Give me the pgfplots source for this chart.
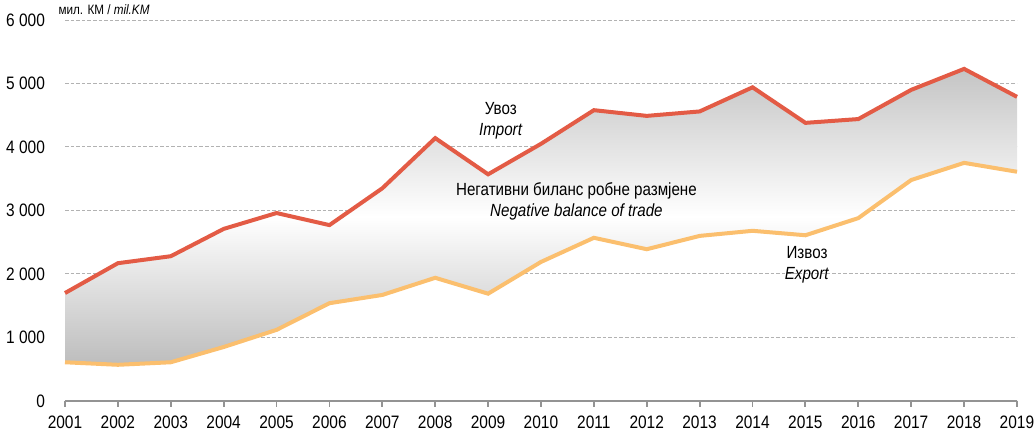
\documentclass[border=0pt]{standalone}
\usepackage{fontspec}
\setmainfont{Liberation Sans}[FakeStretch=0.86]
\usepackage{pgfplots}
\pgfplotsset{compat=1.18}
\definecolor{imp}{HTML}{E35B45}
\definecolor{exp}{HTML}{FBBF6E}
\begin{document}
\begin{tikzpicture}
\begin{axis}[
  scale only axis, width=476pt, height=190.5pt,
  xmin=2001, xmax=2019, ymin=0, ymax=6000,
  xtick={2001,2002,...,2019}, ytick={0,1000,...,6000},
  axis lines*=left,
  y axis line style={draw=none},
  x axis line style={draw=gray!85, line width=0.9pt},
  xtick style={draw=gray!85, line width=0.9pt},
  ytick style={draw=none},
  tick align=outside, major tick length=3pt,
  ymajorgrids, grid style={gray!60, line width=0.5pt, dash pattern=on 1.8pt off 1pt},
  /pgf/number format/assume math mode=true,
  /pgf/number format/1000 sep={\ },
  x tick label style={/pgf/number format/1000 sep={}, font=\fontsize{9}{10}\selectfont, yshift=-1pt},
  y tick label style={font=\fontsize{9}{10}\selectfont, xshift=-3.5pt},
  clip=false,
]
% gap between import and export: import forward, export backward
\addplot[draw=none, top color=black!23, bottom color=black!26, middle color=white] coordinates {
(2001,1700)(2002,2170)(2003,2280)(2004,2710)(2005,2960)(2006,2770)(2007,3350)(2008,4140)(2009,3570)(2010,4050)(2011,4580)(2012,4490)(2013,4560)(2014,4940)(2015,4380)(2016,4440)(2017,4900)(2018,5230)(2019,4790)
(2019,3610)(2018,3750)(2017,3480)(2016,2880)(2015,2610)(2014,2680)(2013,2600)(2012,2390)(2011,2570)(2010,2190)(2009,1690)(2008,1940)(2007,1670)(2006,1540)(2005,1120)(2004,850)(2003,610)(2002,570)(2001,610)} -- cycle;
\addplot[imp, line width=2pt] coordinates {
(2001,1700)(2002,2170)(2003,2280)(2004,2710)(2005,2960)(2006,2770)(2007,3350)(2008,4140)(2009,3570)(2010,4050)(2011,4580)(2012,4490)(2013,4560)(2014,4940)(2015,4380)(2016,4440)(2017,4900)(2018,5230)(2019,4790)};
\addplot[exp, line width=2pt] coordinates {
(2001,610)(2002,570)(2003,610)(2004,850)(2005,1120)(2006,1540)(2007,1670)(2008,1940)(2009,1690)(2010,2190)(2011,2570)(2012,2390)(2013,2600)(2014,2680)(2015,2610)(2016,2880)(2017,3480)(2018,3750)(2019,3610)};
\node[anchor=west, font=\fontsize{6.8}{8}\selectfont, inner sep=0pt] at (axis cs:2000.87,6160) {мил. КМ / \textit{mil.KM}};
\node[font=\fontsize{8.8}{10.5}\selectfont, align=center, inner sep=0pt] at (axis cs:2009.24,4417) {Увоз\\\textit{Import}};
\node[font=\fontsize{8.8}{10.5}\selectfont, align=center, inner sep=0pt] at (axis cs:2010.67,3142) {Негативни биланс робне размјене\\\textit{Negative balance of trade}};
\node[font=\fontsize{8.8}{10.5}\selectfont, align=center, inner sep=0pt] at (axis cs:2015.03,2150) {Извоз\\\textit{Export}};
\end{axis}
\pgfresetboundingbox
\path (-32.5pt,-15.5pt) rectangle (485pt,200.5pt);
\end{tikzpicture}
\end{document}
